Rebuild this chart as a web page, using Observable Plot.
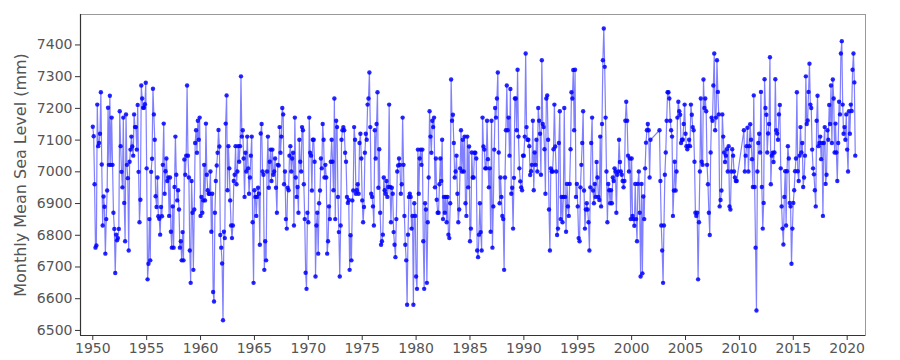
<!DOCTYPE html>
<html><head><meta charset="utf-8">
<script src="https://cdn.jsdelivr.net/npm/d3@7"></script>
<script src="https://cdn.jsdelivr.net/npm/@observablehq/plot@0.6"></script>
<style>
html,body{margin:0;padding:0;background:#fff;}
#chart{width:900px;height:360px;overflow:hidden;}
</style></head><body><div id="chart"></div>
<script>
// Monthly mean sea level (mm), one array per decade, January first; null = missing month
const level1950s = [
7142,7112,6961,6761,6768,7212,7081,7091,7120,7251,7023,6831,
6922,6890,6742,6851,6941,7202,7022,7240,7022,7171,7022,6871,
6820,6681,6802,6784,6791,6820,7191,7081,7000,6951,7171,6902,
6781,7181,7022,6980,6752,7032,7070,7111,7080,7051,7181,7141,
7141,7070,7211,7000,6841,6912,7272,7231,7202,7202,7213,7281,
7011,6661,6710,6851,6721,7000,7041,7262,7181,7101,6923,6889,
6982,6860,6852,6802,6889,6860,7022,7152,6931,7002,7042,6971,
6982,6861,6982,6811,6761,6891,6761,6952,7111,6991,6910,6942,
6881,6761,6781,6721,6810,6721,7039,6991,7051,7272,7051,6982,
6752,6650,6971,6871,6691,6881,7091,7131,7060,7161,7101,7171];
const level1960s = [
6861,6921,6871,6910,7022,6910,7152,6991,6942,6931,6931,7001,
6811,6931,6621,6591,6871,6971,7020,7060,7132,7080,6801,6761,
6711,6532,6811,6791,7152,7241,6942,7081,7011,6910,6831,6791,
6831,6971,6991,7081,6961,7001,7081,7032,7081,7301,7111,7131,
7042,6921,7060,7001,7111,7011,6931,6982,7051,7111,6841,6650,
6942,6921,6861,6921,6950,6931,6770,7121,7151,7001,6991,6691,
6781,6721,7001,7111,6950,7032,7070,6971,7070,6991,7001,7042,
6950,6871,7022,7020,7141,7060,7111,7201,7181,6961,7001,6851,
6821,6950,6942,7051,7081,7001,7042,7060,6831,7171,6982,6921,
6952,6871,7101,7032,7001,7141,7131,6961,6851,6682,6631,6871];
const level1970s = [
6841,7171,7060,7051,6941,7101,7101,7032,6670,6831,6871,6742,
6901,6941,7042,7011,7151,7101,6982,7022,6982,6742,6781,6891,
6851,7032,7101,7032,6942,7231,6851,7161,7141,6921,6810,6670,
6831,7101,7131,7141,7131,7060,7032,6921,6902,6911,6691,6800,
6721,6910,6941,7141,7101,6931,6942,6961,6931,7091,7120,7042,
6910,6841,6889,7060,7120,7101,7212,7231,7313,7141,6931,6921,
6891,6831,7131,7042,7151,7251,6950,7071,6871,6770,6781,6802,
6982,6942,6931,6971,6921,6952,7212,6952,6841,6950,6931,6810,
6770,6731,6851,7001,7020,7042,7022,6931,6961,7171,7022,6861,
6770,6721,6581,6802,6921,6931,6921,6821,6861,6581,6901,6861];
const level1980s = [
6670,6631,7070,6931,7042,7070,7022,7070,6781,6631,6901,6881,
6650,6841,6982,7191,7111,7060,7161,7141,7171,6951,7042,6912,
6871,6871,6961,7042,6971,7101,6851,6921,6871,6921,6841,6921,
6802,6791,6901,7291,7161,7180,7091,6982,7001,7051,6931,6841,
6881,7011,7131,7001,7101,7001,7111,6901,6861,7111,6951,7080,
6781,6821,7061,6982,6982,7060,7060,7042,6752,6731,6802,6901,
6810,6752,7171,7080,7070,7011,7011,7161,7040,6951,7011,6811,
7161,6761,6891,7070,7201,7171,7231,7313,7061,6901,6982,6921,
6861,6851,6691,6982,7131,7272,7131,7171,7051,7261,6931,6950,
6821,6981,7231,7231,7131,7322,7111,7011,6970,6951,6942,7051];
const level1990s = [
7051,7111,7373,7141,7101,7101,7081,6990,7002,7022,7161,6942,
7061,7022,7101,7001,7201,7161,7120,6991,7352,7151,7141,7071,
6931,7231,7241,7101,6881,6752,7011,7001,7001,7071,7212,7080,
7001,6801,6821,7091,7191,6851,6921,6841,6921,7201,6921,6811,
6962,6891,6861,6962,7071,7251,7231,7321,7131,7322,6921,6962,
6891,6791,6781,6951,7022,7091,7191,6941,6821,6881,6901,6881,
6841,6752,6951,7091,7171,6941,6901,6962,6921,7031,6982,6921,
6911,7111,6891,7151,7352,7452,7331,7171,7001,6841,6962,6942,
6901,6942,6901,6982,6971,7011,7001,6871,6991,7001,7101,7031,
7001,6991,6971,6951,6971,7161,7221,7161,7051,7001,7042,6851];
const level2000s = [
7042,6861,6851,6830,6962,6851,6781,6962,7001,6871,6670,6962,
6680,6922,6851,7011,7092,7131,7151,7131,6982,7101,null,null,
null,null,null,null,null,null,null,7131,6971,6831,6752,6650,
6831,6991,7061,7161,7251,7251,7231,7161,7131,7111,6861,6941,
7032,6941,7001,7171,7221,7191,7180,7091,7101,7101,7151,7212,
7120,7081,7071,7081,7101,7081,7212,7180,7141,7131,7032,6871,
6861,6871,6661,6841,7001,7231,7032,7022,7291,7201,7231,7191,
7022,6961,6871,6801,7061,7171,7161,7272,7373,7131,7171,7352,
7252,7181,6891,6911,6941,7181,7111,7061,7031,7051,7071,7001,
7081,6891,6881,7001,7071,7051,7001,6982,6971,6971,null,null];
const level2010s = [
null,null,null,null,null,7131,7001,7051,7081,7139,7001,7081,
7150,7101,7040,6952,7241,6952,6761,6563,7001,7091,7120,7061,
7252,6952,6821,6902,7292,7201,7180,7061,7121,7151,7361,6961,
7051,7060,7031,7061,7292,7131,7121,7101,7181,7211,7011,6891,
6821,6771,6921,7002,6831,7002,7081,7042,6902,6891,6710,6821,
6902,6942,7002,7042,7251,7002,6971,7051,7141,7061,7091,6952,
6982,7051,7301,7151,7162,7252,7341,7212,7201,7070,7011,6992,
6942,6891,7161,7240,7081,7091,7111,7040,7091,6861,7091,7141,
6962,6991,7131,7101,7211,7151,7272,7091,7291,7231,7061,7152,
7061,6971,7091,7221,7181,7373,7412,7212,7120,7141,7101,7181];
const level2020 = [7070,7001,7191,7120,7212,7192,7322,7373,7282,7051];

const decadeStarts = [1950, 1960, 1970, 1980, 1990, 2000, 2010, 2020];
const decadeSeries = [level1950s, level1960s, level1970s, level1980s, level1990s, level2000s, level2010s, level2020];

const xTicks = [1950, 1955, 1960, 1965, 1970, 1975, 1980, 1985, 1990, 1995, 2000, 2005, 2010, 2015, 2020];
const yTicks = [6500, 6600, 6700, 6800, 6900, 7000, 7100, 7200, 7300, 7400];
const yLabel = "Monthly Mean Sea Level (mm)";

const rows = [];
decadeSeries.forEach((arr, k) => {
  arr.forEach((v, i) => { if (v != null) rows.push({t: decadeStarts[k] + i / 12, v}); });
});

const xDom = [1948.86, 2021.7];
const yDom = [6484, 7496];

const chart = Plot.plot({
  width: 900, height: 360,
  marginLeft: 80, marginRight: 35, marginTop: 14, marginBottom: 25,
  style: {fontFamily: "'DejaVu Sans', sans-serif", fontSize: "14px", background: "#fff", color: "#444"},
  x: {domain: xDom},
  y: {domain: yDom},
  marks: [
    Plot.frame({stroke: "#999", strokeWidth: 1}),
    Plot.ruleX([xDom[0]], {stroke: "#333", strokeWidth: 1.2}),
    Plot.ruleY([yDom[0]], {stroke: "#333", strokeWidth: 1.2}),
    Plot.axisX({ticks: xTicks, tickFormat: d => String(d), tickSize: 5, tickPadding: 3, label: null, stroke: "#333", fill: "#555"}),
    Plot.axisY({ticks: yTicks, tickFormat: d => String(d), tickSize: 5, tickPadding: 3, label: null, stroke: "#333", fill: "#555"}),
    Plot.line(rows, {x: "t", y: "v", stroke: "#0000ff", strokeOpacity: 0.5, strokeWidth: 1.2}),
    Plot.dot(rows, {x: "t", y: "v", r: 2.2, fill: "#0000ff", fillOpacity: 0.85, stroke: "none"}),
    Plot.text([yLabel], {frameAnchor: "left", textAnchor: "middle", lineAnchor: "middle", rotate: -90, dx: -60, fontSize: 16, fill: "#555"})
  ]
});
document.getElementById("chart").appendChild(chart);
</script>
</body></html>
